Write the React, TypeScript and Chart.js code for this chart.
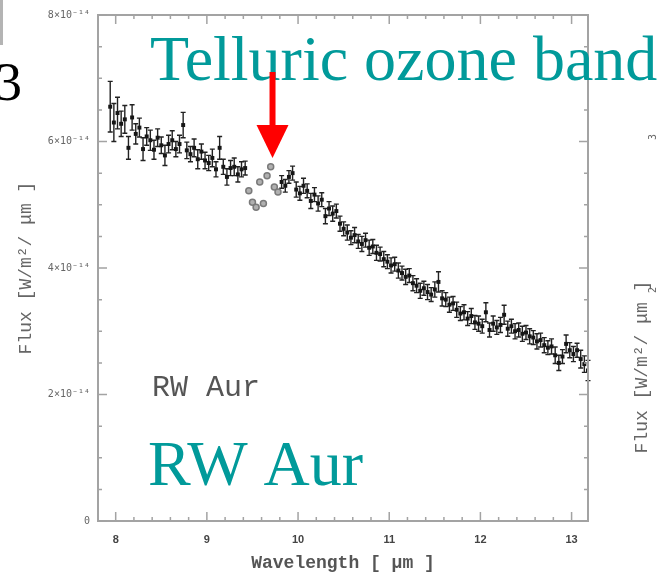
import { useEffect, useRef } from "react";
import { Chart, registerables } from "chart.js";

Chart.register(...registerables);

// Wavelength grid of the spectrum [μm]
const wavelength = [
  7.94, 7.98, 8.02, 8.06, 8.1, 8.14, 8.18, 8.22, 8.26, 8.3,
  8.34, 8.38, 8.42, 8.46, 8.5, 8.54, 8.58, 8.62, 8.66, 8.7,
  8.74, 8.78, 8.82, 8.86, 8.9, 8.94, 8.98, 9.02, 9.06, 9.1,
  9.14, 9.18, 9.22, 9.26, 9.3, 9.34, 9.38, 9.42, 9.46, 9.5,
  9.54, 9.58, 9.62, 9.66, 9.7, 9.74, 9.78, 9.82, 9.86, 9.9,
  9.94, 9.98, 10.02, 10.06, 10.1, 10.14, 10.18, 10.22, 10.26, 10.3,
  10.34, 10.38, 10.42, 10.46, 10.5, 10.54, 10.58, 10.62, 10.66, 10.7,
  10.74, 10.78, 10.82, 10.86, 10.9, 10.94, 10.98, 11.02, 11.06, 11.1,
  11.14, 11.18, 11.22, 11.26, 11.3, 11.34, 11.38, 11.42, 11.46, 11.5,
  11.54, 11.58, 11.62, 11.66, 11.7, 11.74, 11.78, 11.82, 11.86, 11.9,
  11.94, 11.98, 12.02, 12.06, 12.1, 12.14, 12.18, 12.22, 12.26, 12.3,
  12.34, 12.38, 12.42, 12.46, 12.5, 12.54, 12.58, 12.62, 12.66, 12.7,
  12.74, 12.78, 12.82, 12.86, 12.9, 12.94, 12.98, 13.02, 13.06, 13.1,
  13.14, 13.18,
];

// Flux in units of 1e-14 W/m²/μm
const flux = [
  6.55, 6.3, 6.45, 6.28, 6.35, 5.9, 6.38, 6.12, 6.22, 5.88,
  6.08, 6.02, 5.87, 6.06, 5.94, 5.78, 5.96, 6.02, 5.88, 5.96,
  6.26, 5.86, 5.8, 5.9, 5.72, 5.84, 5.7, 5.66, 5.74, 5.56,
  5.9, 5.6, 5.44, 5.58, 5.6, 5.48, 5.56, 5.58, 5.22, 5.04,
  4.96, 5.36, 5.02, 5.46, 5.6, 5.28, 5.2, 5.36, 5.3, 5.44,
  5.5, 5.24, 5.18, 5.3, 5.22, 5.06, 5.16, 5.02, 5.08, 4.82,
  4.94, 4.86, 4.9, 4.7, 4.62, 4.56, 4.48, 4.52, 4.42, 4.38,
  4.44, 4.32, 4.34, 4.24, 4.22, 4.14, 4.1, 4.04, 4.06, 3.96,
  3.92, 3.86, 3.88, 3.76, 3.72, 3.64, 3.68, 3.62, 3.58, 3.66,
  3.78, 3.52, 3.5, 3.42, 3.44, 3.34, 3.28, 3.3, 3.2, 3.24,
  3.14, 3.12, 3.08, 3.3, 3.02, 3.12, 3.06, 3.1, 3.26, 3.04,
  3.08, 3.0, 3.02, 2.96, 2.98, 2.92, 2.9, 2.84, 2.86, 2.78,
  2.74, 2.76, 2.62, 2.5, 2.6, 2.8, 2.7, 2.64, 2.7, 2.56,
  2.48, 2.38,
];

// 1-sigma uncertainties, same units as flux
const fluxErr = [
  0.4, 0.3, 0.25, 0.2, 0.22, 0.18, 0.2, 0.16, 0.15, 0.18,
  0.14, 0.16, 0.15, 0.14, 0.13, 0.16, 0.14, 0.15, 0.12, 0.14,
  0.2, 0.13, 0.12, 0.14, 0.15, 0.12, 0.13, 0.12, 0.14, 0.12,
  0.18, 0.12, 0.13, 0.12, 0.14, 0.12, 0.12, 0.11, 0.08, 0.08,
  0.08, 0.1, 0.08, 0.1, 0.08, 0.1, 0.08, 0.1, 0.1, 0.1,
  0.11, 0.12, 0.11, 0.12, 0.11, 0.12, 0.11, 0.12, 0.11, 0.12,
  0.11, 0.12, 0.11, 0.12, 0.11, 0.12, 0.11, 0.12, 0.11, 0.12,
  0.11, 0.12, 0.11, 0.12, 0.11, 0.12, 0.11, 0.12, 0.11, 0.12,
  0.11, 0.12, 0.11, 0.12, 0.11, 0.12, 0.11, 0.12, 0.11, 0.12,
  0.16, 0.12, 0.11, 0.12, 0.11, 0.12, 0.11, 0.12, 0.11, 0.12,
  0.11, 0.12, 0.11, 0.15, 0.11, 0.12, 0.11, 0.12, 0.15, 0.12,
  0.11, 0.12, 0.11, 0.12, 0.11, 0.12, 0.11, 0.12, 0.11, 0.12,
  0.11, 0.12, 0.13, 0.12, 0.11, 0.14, 0.12, 0.12, 0.11, 0.14,
  0.13, 0.16,
];

const xTicks = [8, 9, 10, 11, 12, 13];
const yTicks = [0, 2, 4, 6, 8];
const ozoneBand = [9.44, 9.8];
const arrowAt = 9.72;

const TEAL = "#019a9a";
const AXIS_GREY = "#a3a3a3";

const inBand = (x: number) => x >= ozoneBand[0] && x <= ozoneBand[1];

const decorations = {
  id: "decorations",
  beforeDatasetsDraw(chart: any) {
    const { ctx, scales } = chart;
    const xs = scales.x;
    const ys = scales.y;
    ctx.save();
    ctx.lineWidth = 1.4;
    ctx.strokeStyle = "#222";
    wavelength.forEach((w, i) => {
      if (inBand(w)) return;
      const px = xs.getPixelForValue(w);
      const y1 = ys.getPixelForValue(flux[i] - fluxErr[i]);
      const y2 = ys.getPixelForValue(flux[i] + fluxErr[i]);
      ctx.beginPath();
      ctx.moveTo(px, y1);
      ctx.lineTo(px, y2);
      ctx.moveTo(px - 2.5, y1);
      ctx.lineTo(px + 2.5, y1);
      ctx.moveTo(px - 2.5, y2);
      ctx.lineTo(px + 2.5, y2);
      ctx.stroke();
    });
    ctx.restore();
  },
  afterDraw(chart: any) {
    const { ctx, scales, chartArea } = chart;
    const xs = scales.x;
    const ys = scales.y;
    const { left, right, top, bottom } = chartArea;

    ctx.save();
    // frame
    ctx.strokeStyle = AXIS_GREY;
    ctx.lineWidth = 2;
    ctx.strokeRect(left, top, right - left, bottom - top);

    // inward tick marks on all four sides
    ctx.lineWidth = 1.5;
    ctx.beginPath();
    for (let k = 0; k <= 30; k++) {
      const v = 7.8 + k * 0.2;
      if (v < xs.min || v > xs.max) continue;
      const major = Math.abs(v - Math.round(v)) < 1e-6;
      const len = major ? 9 : 4;
      const px = xs.getPixelForValue(v);
      ctx.moveTo(px, bottom);
      ctx.lineTo(px, bottom - len);
      ctx.moveTo(px, top);
      ctx.lineTo(px, top + len);
    }
    for (let k = 0; k <= 16; k++) {
      const v = k * 0.5;
      const major = k % 4 === 0;
      const len = major ? 9 : 4;
      const py = ys.getPixelForValue(v);
      ctx.moveTo(left, py);
      ctx.lineTo(left + len, py);
      ctx.moveTo(right, py);
      ctx.lineTo(right - len, py);
    }
    ctx.stroke();

    // small label inside the panel
    ctx.fillStyle = "#555";
    ctx.font = "30px 'Liberation Mono'";
    ctx.textBaseline = "alphabetic";
    ctx.textAlign = "left";
    ctx.fillText("RW Aur", 152, 396);

    // big teal captions
    ctx.fillStyle = TEAL;
    ctx.font = "64px 'Liberation Serif'";
    ctx.fillText("Telluric ozone band", 150, 80);
    ctx.fillText("RW Aur", 148, 485);

    // red arrow pointing at the ozone band
    const ax = xs.getPixelForValue(arrowAt);
    ctx.fillStyle = "#ff0000";
    ctx.fillRect(ax - 3, 72, 6, 55);
    ctx.beginPath();
    ctx.moveTo(ax - 16, 125);
    ctx.lineTo(ax + 16, 125);
    ctx.lineTo(ax, 158);
    ctx.closePath();
    ctx.fill();

    // panel letter and edge of the neighbouring panel
    ctx.fillStyle = "#000";
    ctx.font = "54px 'Liberation Serif'";
    ctx.textAlign = "right";
    ctx.fillText("3", 22, 100);
    ctx.fillStyle = "#b4b4b4";
    ctx.fillRect(0, 0, 3, 45);

    ctx.fillStyle = "#666";
    ctx.translate(642, 367);
    ctx.rotate(-Math.PI / 2);
    ctx.textAlign = "center";
    ctx.textBaseline = "middle";
    ctx.font = "18px 'Liberation Mono'";
    ctx.fillText("Flux [W/m²/ μm ]", 0, 0);
    ctx.font = "10px 'DejaVu Sans Mono'";
    ctx.fillText("3", 230, 11);
    ctx.fillText("2", 77, 11);
    ctx.restore();
  },
};

export default function App() {
  const canvasRef = useRef<HTMLCanvasElement | null>(null);

  useEffect(() => {
    const canvas = canvasRef.current;
    if (!canvas) return;
    const points = wavelength.map((w, i) => ({ x: w, y: flux[i] }));
    const chart = new Chart(canvas, {
      type: "scatter",
      data: {
        datasets: [
          {
            data: points,
            pointStyle: (c: any) => (inBand(wavelength[c.dataIndex]) ? "circle" : "rect"),
            pointRadius: (c: any) => (inBand(wavelength[c.dataIndex]) ? 3 : 2.8),
            pointBorderWidth: (c: any) => (inBand(wavelength[c.dataIndex]) ? 1.5 : 0),
            pointBackgroundColor: (c: any) =>
              inBand(wavelength[c.dataIndex]) ? "#b0b0b0" : "#161616",
            pointBorderColor: (c: any) =>
              inBand(wavelength[c.dataIndex]) ? "#7a7a7a" : "rgba(0,0,0,0)",
          },
        ],
      },
      options: {
        responsive: false,
        animation: false,
        layout: { padding: { top: 15, right: 69, left: 0, bottom: 0 } },
        plugins: { legend: { display: false }, tooltip: { enabled: false } },
        scales: {
          x: {
            type: "linear",
            min: 7.806,
            max: 13.18,
            afterBuildTicks: (axis: any) => {
              axis.ticks = xTicks.map((v) => ({ value: v }));
            },
            afterFit: (s: any) => {
              s.height = 56;
            },
            grid: { display: false, drawTicks: false },
            border: { display: false },
            ticks: {
              color: "#444",
              padding: 12,
              maxRotation: 0,
              font: { family: "'Liberation Sans'", size: 11, weight: "bold" },
            },
            title: {
              display: true,
              text: "Wavelength [ μm ]",
              color: "#555",
              padding: { top: 0, bottom: 3 },
              font: { family: "'Liberation Mono'", size: 18, weight: "bold" },
            },
          },
          y: {
            type: "linear",
            min: 0,
            max: 8,
            afterBuildTicks: (axis: any) => {
              axis.ticks = yTicks.map((v) => ({ value: v }));
            },
            afterFit: (s: any) => {
              s.width = 98;
            },
            grid: { display: false, drawTicks: false },
            border: { display: false },
            ticks: {
              color: "#666",
              padding: 8,
              font: { family: "'DejaVu Sans Mono'", size: 10 },
              callback: (v: any) => (v === 0 ? "0" : `${v}×10⁻¹⁴`),
            },
            title: {
              display: true,
              text: "Flux [W/m²/ μm ]",
              color: "#666",
              padding: { top: 15, bottom: 0 },
              font: { family: "'Liberation Mono'", size: 18 },
            },
          },
        },
      },
      plugins: [decorations],
    });
    return () => chart.destroy();
  }, []);

  return (
    <div style={{ position: "fixed", left: 0, top: 0, width: 657, height: 577, background: "#fff" }}>
      <canvas ref={canvasRef} width={657} height={577} style={{ display: "block" }} />
    </div>
  );
}
